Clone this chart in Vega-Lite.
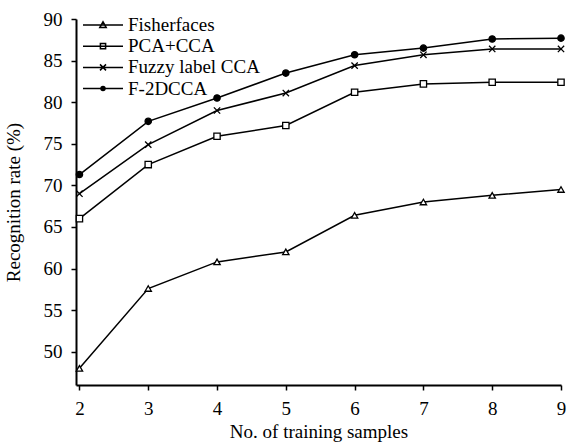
{
  "$schema": "https://vega.github.io/schema/vega-lite/v6.json",
  "width": 485,
  "height": 366,
  "autosize": "none",
  "padding": {"left": 76, "top": 19, "right": 6, "bottom": 62},
  "background": "white",
  "config": {
    "font": "Liberation Serif",
    "view": {"stroke": null},
    "axis": {
      "labelFont": "Liberation Serif",
      "titleFont": "Liberation Serif",
      "labelFontSize": 19,
      "titleFontSize": 19,
      "titleFontWeight": "normal",
      "labelColor": "black",
      "titleColor": "black",
      "domainColor": "black",
      "domainWidth": 2,
      "tickColor": "black",
      "tickWidth": 1.5,
      "tickSize": 5,
      "grid": false
    }
  },
  "data": {
    "values": [
      {"n": 2, "rate": 48.0, "series": "Fisherfaces"},
      {"n": 3, "rate": 57.6, "series": "Fisherfaces"},
      {"n": 4, "rate": 60.8, "series": "Fisherfaces"},
      {"n": 5, "rate": 62.0, "series": "Fisherfaces"},
      {"n": 6, "rate": 66.4, "series": "Fisherfaces"},
      {"n": 7, "rate": 68.0, "series": "Fisherfaces"},
      {"n": 8, "rate": 68.8, "series": "Fisherfaces"},
      {"n": 9, "rate": 69.5, "series": "Fisherfaces"},
      {"n": 2, "rate": 66.0, "series": "PCA+CCA"},
      {"n": 3, "rate": 72.5, "series": "PCA+CCA"},
      {"n": 4, "rate": 75.9, "series": "PCA+CCA"},
      {"n": 5, "rate": 77.2, "series": "PCA+CCA"},
      {"n": 6, "rate": 81.2, "series": "PCA+CCA"},
      {"n": 7, "rate": 82.2, "series": "PCA+CCA"},
      {"n": 8, "rate": 82.4, "series": "PCA+CCA"},
      {"n": 9, "rate": 82.4, "series": "PCA+CCA"},
      {"n": 2, "rate": 69.0, "series": "Fuzzy label CCA"},
      {"n": 3, "rate": 74.9, "series": "Fuzzy label CCA"},
      {"n": 4, "rate": 79.0, "series": "Fuzzy label CCA"},
      {"n": 5, "rate": 81.1, "series": "Fuzzy label CCA"},
      {"n": 6, "rate": 84.4, "series": "Fuzzy label CCA"},
      {"n": 7, "rate": 85.7, "series": "Fuzzy label CCA"},
      {"n": 8, "rate": 86.4, "series": "Fuzzy label CCA"},
      {"n": 9, "rate": 86.4, "series": "Fuzzy label CCA"},
      {"n": 2, "rate": 71.3, "series": "F-2DCCA"},
      {"n": 3, "rate": 77.7, "series": "F-2DCCA"},
      {"n": 4, "rate": 80.5, "series": "F-2DCCA"},
      {"n": 5, "rate": 83.5, "series": "F-2DCCA"},
      {"n": 6, "rate": 85.7, "series": "F-2DCCA"},
      {"n": 7, "rate": 86.5, "series": "F-2DCCA"},
      {"n": 8, "rate": 87.6, "series": "F-2DCCA"},
      {"n": 9, "rate": 87.7, "series": "F-2DCCA"}
    ]
  },
  "encoding": {
    "x": {
      "field": "n",
      "type": "quantitative",
      "title": "No. of training samples",
      "scale": {"domain": [1.95, 9], "nice": false, "zero": false},
      "axis": {"values": [2, 3, 4, 5, 6, 7, 8, 9], "labelPadding": 9, "titlePadding": 4, "labelFlush": false}
    },
    "y": {
      "field": "rate",
      "type": "quantitative",
      "title": "Recognition rate (%)",
      "scale": {"domain": [46, 90], "nice": false, "zero": false},
      "axis": {"values": [50, 55, 60, 65, 70, 75, 80, 85, 90], "labelPadding": 9, "titlePadding": 20, "labelFlush": false}
    }
  },
  "resolve": {"scale": {"shape": "independent"}, "legend": {"shape": "independent"}},
  "layer": [
    {
      "mark": {"type": "line", "color": "black", "strokeWidth": 1.5},
      "encoding": {"detail": {"field": "series"}}
    },
    {
      "mark": {"type": "point", "filled": false, "stroke": "black", "opacity": 0, "strokeWidth": 1.5},
      "encoding": {
        "shape": {
          "field": "series",
          "type": "nominal",
          "scale": {
            "domain": ["Fisherfaces", "PCA+CCA", "Fuzzy label CCA", "F-2DCCA"],
            "range": [
              "M-1,0L1,0M-0.16,0.13L0.16,0.13L0,-0.16Z",
              "M-1,0L1,0M-0.13,-0.13L0.13,-0.13L0.13,0.13L-0.13,0.13Z",
              "M-1,0L1,0M-0.15,-0.15L0.15,0.15M-0.15,0.15L0.15,-0.15",
              "M-1,0L1,0M-0.1,0A0.1,0.1,0,1,1,0.1,0A0.1,0.1,0,1,1,-0.1,0ZM-0.045,0A0.045,0.045,0,1,1,0.045,0A0.045,0.045,0,1,1,-0.045,0Z"
            ]
          },
          "legend": {
            "title": null,
            "orient": "none",
            "legendX": 6,
            "legendY": -4,
            "padding": 0,
            "symbolSize": 1600,
            "symbolOpacity": 1,
            "symbolFillColor": "white",
            "symbolStrokeColor": "black",
            "symbolStrokeWidth": 1.5,
            "clipHeight": 20,
            "rowPadding": 1.2,
            "labelOffset": 4,
            "labelFont": "Liberation Serif",
            "labelFontSize": 19,
            "labelColor": "black",
            "labelLimit": 300
          }
        },
        "size": {"value": 1}
      }
    },
    {
      "mark": {"type": "point", "stroke": "black", "strokeWidth": 1.3, "opacity": 1},
      "encoding": {
        "shape": {
          "field": "series",
          "type": "nominal",
          "legend": null,
          "scale": {
            "domain": ["Fisherfaces", "PCA+CCA", "Fuzzy label CCA", "F-2DCCA"],
            "range": ["triangle-up", "square", "M-1,-1L1,1M-1,1L1,-1", "circle"]
          }
        },
        "fill": {
          "field": "series",
          "type": "nominal",
          "legend": null,
          "scale": {
            "domain": ["Fisherfaces", "PCA+CCA", "Fuzzy label CCA", "F-2DCCA"],
            "range": ["white", "white", "white", "black"]
          }
        },
        "size": {"value": 40}
      }
    }
  ]
}
